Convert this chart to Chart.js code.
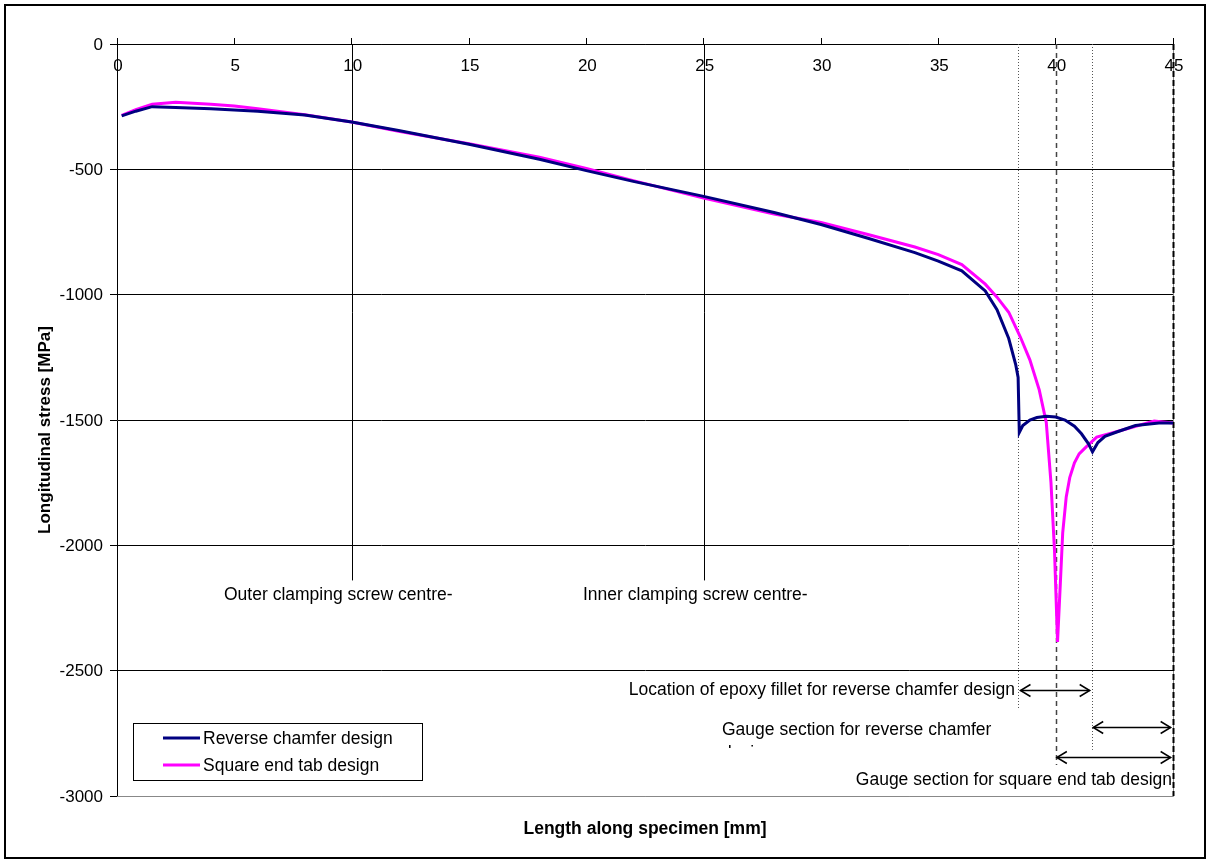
<!DOCTYPE html>
<html>
<head>
<meta charset="utf-8">
<script src="https://cdn.jsdelivr.net/npm/chart.js@4/dist/chart.umd.min.js"></script>
<style>
  body { margin: 0; background: #fff; }
  #wrap { width: 1209px; height: 862px; }
</style>
</head>
<body>
<div id="wrap"><canvas id="c" width="1209" height="862"></canvas></div>
<script>
// data
const chamferX = [0.2, 0.8, 1.5, 2.5, 4, 5, 6, 8, 10, 12, 15, 18, 20, 22, 25, 28, 30, 32, 34, 35, 36, 37, 37.5, 38, 38.3, 38.4, 38.45, 38.6, 38.9, 39.2, 39.6, 40.0, 40.4, 40.8, 41.1, 41.4, 41.57, 41.8, 42.1, 42.6, 43.4, 44.4, 45];
const chamferY = [-287, -268, -250, -253, -258, -263, -268, -283, -311, -345, -400, -460, -505, -548, -608, -672, -720, -775, -832, -866, -905, -985, -1060, -1175, -1280, -1330, -1550, -1522, -1500, -1490, -1485, -1488, -1500, -1525, -1555, -1595, -1627, -1590, -1565, -1548, -1522, -1512, -1512];

const squareX = [0.2, 0.8, 1.5, 2.5, 4, 5, 6, 8, 10, 12, 15, 18, 20, 22, 25, 28, 30, 32, 34, 35, 36, 37, 37.5, 38, 38.5, 38.9, 39.3, 39.6, 39.8, 39.95, 40.08, 40.2, 40.3, 40.45, 40.6, 40.8, 41.0, 41.3, 41.75, 42.4, 43.3, 44.2, 45];
const squareY = [-285, -262, -240, -232, -240, -247, -258, -282, -311, -348, -398, -452, -497, -545, -615, -678, -712, -760, -810, -840, -880, -958, -1010, -1070, -1170, -1260, -1380, -1510, -1750, -2020, -2385, -2150, -1950, -1807, -1730, -1671, -1635, -1607, -1568, -1552, -1528, -1504, -1512];

const seriesNames = ['Reverse chamfer design', 'Square end tab design'];

const xTicks = [0, 5, 10, 15, 20, 25, 30, 35, 40, 45];
const yTicks = [0, -500, -1000, -1500, -2000, -2500, -3000];

// marker lines: x position and where they end (MPa)
const markerX = [10, 25, 38.4, 40, 41.55, 45];
const markerEnd = [-2140, -2140, -2657, -2876, -2816, -3000];

// arrows: from, to, level
const arrowFrom = [38.5, 41.6, 40.05];
const arrowTo = [41.45, 44.9, 44.9];
const arrowY = [-2577, -2724, -2844];

const FONT = '"Liberation Sans", Arial, sans-serif';

function pts(xs, ys) {
  return xs.map((x, i) => ({x: x, y: ys[i]}));
}

function arrowHead(ctx, x, y, dir) {
  ctx.beginPath();
  ctx.moveTo(x + dir * -10, y - 6);
  ctx.lineTo(x, y);
  ctx.lineTo(x + dir * -10, y + 6);
  ctx.stroke();
}

const extras = {
  id: 'extras',
  beforeDraw(chart) {
    const ctx = chart.ctx;
    ctx.save();
    ctx.fillStyle = '#fff';
    ctx.fillRect(0, 0, chart.width, chart.height);
    ctx.strokeStyle = '#000';
    ctx.lineWidth = 2;
    ctx.strokeRect(5, 5, 1200, 853);
    ctx.restore();
  },
  beforeDatasetsDraw(chart) {
    const ctx = chart.ctx;
    const xs = chart.scales.x, ys = chart.scales.y;
    const a = chart.chartArea;
    ctx.save();
    // plot border right / bottom
    ctx.strokeStyle = '#888';
    ctx.lineWidth = 1;
    ctx.beginPath();
    ctx.moveTo(a.right + 0.5, a.top);
    ctx.lineTo(a.right + 0.5, a.bottom + 0.5);
    ctx.lineTo(a.left, a.bottom + 0.5);
    ctx.stroke();

    markerX.forEach((v, i) => {
      const px = Math.round(xs.getPixelForValue(v)) + 0.5;
      const y2 = ys.getPixelForValue(markerEnd[i]);
      ctx.beginPath();
      if (i < 2) { ctx.setLineDash([]); ctx.strokeStyle = '#000'; ctx.lineWidth = 1; }
      else if (i === 2 || i === 4) { ctx.setLineDash([1, 2]); ctx.strokeStyle = '#555'; ctx.lineWidth = 1; }
      else if (i === 3) { ctx.setLineDash([5, 4]); ctx.strokeStyle = '#444'; ctx.lineWidth = 1.5; }
      else { ctx.setLineDash([6, 3]); ctx.strokeStyle = '#000'; ctx.lineWidth = 2; }
      ctx.moveTo(px, a.top);
      ctx.lineTo(px, y2);
      ctx.stroke();
    });
    ctx.setLineDash([]);
    ctx.restore();
  },
  afterDraw(chart) {
    const ctx = chart.ctx;
    const xs = chart.scales.x, ys = chart.scales.y;
    const a = chart.chartArea;
    ctx.save();
    ctx.fillStyle = '#000';

    // x tick labels below the top axis line
    ctx.font = '17px ' + FONT;
    ctx.textAlign = 'center';
    ctx.textBaseline = 'middle';
    xTicks.forEach(v => {
      ctx.fillText(String(v), xs.getPixelForValue(v) + 1, a.top + 22);
    });
    // y tick labels
    ctx.textAlign = 'right';
    yTicks.forEach(v => {
      ctx.fillText(String(v), a.left - 14, ys.getPixelForValue(v) + 1);
    });

    // axis titles
    ctx.textAlign = 'center';
    ctx.font = 'bold 17.5px ' + FONT;
    ctx.fillText('Length along specimen [mm]', 645, 829);
    ctx.save();
    ctx.translate(45, 430);
    ctx.rotate(-Math.PI / 2);
    ctx.font = 'bold 17px ' + FONT;
    ctx.fillText('Longitudinal stress [MPa]', 0, 0);
    ctx.restore();

    // annotations
    ctx.font = '17.5px ' + FONT;
    ctx.textAlign = 'left';
    ctx.fillText('Outer clamping screw centre-', 224, 595);
    ctx.fillText('Inner clamping screw centre-', 583, 595);
    ctx.textAlign = 'right';
    ctx.fillText('Location of epoxy fillet for reverse chamfer design', 1015, 690);
    ctx.fillText('Gauge section for square end tab design', 1172, 780);
    ctx.textAlign = 'left';
    ctx.fillText('Gauge section for reverse chamfer', 722, 730);
    ctx.save();
    ctx.beginPath();
    ctx.rect(700, 742, 300, 6);
    ctx.clip();
    ctx.fillText('design', 722, 753);
    ctx.restore();

    // arrows
    ctx.strokeStyle = '#000';
    ctx.lineWidth = 1.5;
    arrowFrom.forEach((f, i) => {
      const x1 = xs.getPixelForValue(f), x2 = xs.getPixelForValue(arrowTo[i]);
      const y = Math.round(ys.getPixelForValue(arrowY[i])) + 0.5;
      ctx.beginPath();
      ctx.moveTo(x1, y);
      ctx.lineTo(x2, y);
      ctx.stroke();
      arrowHead(ctx, x1, y, -1);
      arrowHead(ctx, x2, y, 1);
    });

    // legend box
    ctx.fillStyle = '#fff';
    ctx.fillRect(133, 723, 290, 57);
    ctx.strokeStyle = '#000';
    ctx.lineWidth = 1;
    ctx.strokeRect(133.5, 723.5, 289, 57);
    ctx.font = '17.5px ' + FONT;
    chart.data.datasets.forEach((ds, i) => {
      const y = 738 + i * 27;
      ctx.strokeStyle = ds.borderColor;
      ctx.lineWidth = 3;
      ctx.beginPath();
      ctx.moveTo(163, y);
      ctx.lineTo(200, y);
      ctx.stroke();
      ctx.fillStyle = '#000';
      ctx.textAlign = 'left';
      ctx.textBaseline = 'middle';
      ctx.fillText(ds.label, 203, y + 1);
    });
    ctx.restore();
  }
};

new Chart(document.getElementById('c'), {
  type: 'line',
  data: {
    datasets: [{
      label: seriesNames[0],
      data: pts(chamferX, chamferY),
      borderColor: '#000080',
      borderWidth: 3,
      pointRadius: 0,
      tension: 0,
      fill: false
    }, {
      label: seriesNames[1],
      data: pts(squareX, squareY),
      borderColor: '#ff00ff',
      borderWidth: 3,
      pointRadius: 0,
      tension: 0,
      fill: false
    }]
  },
  options: {
    responsive: false,
    animation: false,
    layout: { padding: { left: 117, right: 36, top: 44, bottom: 66 } },
    plugins: { legend: { display: false }, tooltip: { enabled: false } },
    scales: {
      x: {
        type: 'linear',
        position: 'top',
        min: 0,
        max: 45,
        afterFit: s => { s.height = 0; },
        ticks: { stepSize: 5, display: false },
        grid: { color: 'rgba(0,0,0,0)', tickColor: '#000', tickLength: 6, drawOnChartArea: false },
        border: { display: true, color: '#000', width: 1 }
      },
      y: {
        type: 'linear',
        min: -3000,
        max: 0,
        afterFit: s => { s.width = 0; },
        ticks: { stepSize: 500, display: false },
        grid: {
          color: c => (c.tick && c.tick.value === -3000) ? '#888' : '#000',
          tickColor: '#000',
          tickLength: 7,
          lineWidth: 1
        },
        border: { display: true, color: '#000', width: 1 }
      }
    }
  },
  plugins: [extras]
});
</script>
</body>
</html>
